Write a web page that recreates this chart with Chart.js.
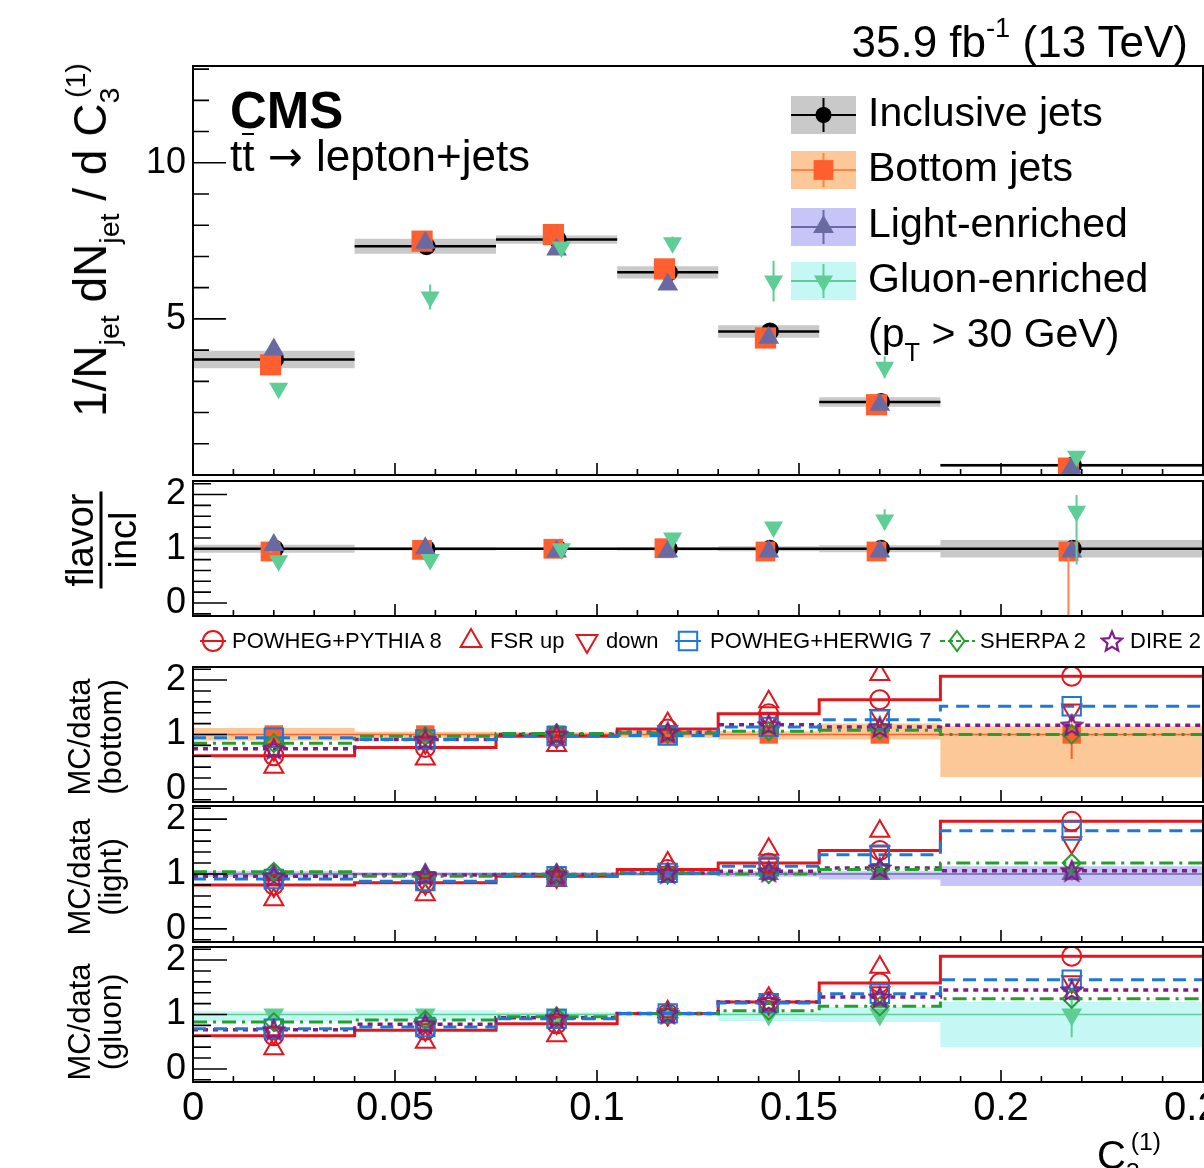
<!DOCTYPE html>
<html>
<head>
<meta charset="utf-8">
<title>C3(1) by jet flavour</title>
<script src="https://cdn.jsdelivr.net/npm/chart.js@4.4.1/dist/chart.umd.min.js"></script>
<style>
  html, body { margin: 0; padding: 0; background: #fff; }
  #page { position: relative; width: 1204px; height: 1168px; overflow: hidden;
          font-family: "Liberation Sans", Arial, Helvetica, sans-serif; color: #000; }
  #page canvas { position: absolute; left: 0; }
  .t { position: absolute; white-space: nowrap; line-height: 1; }
  .rc { position: absolute; white-space: nowrap; line-height: 1; text-align: center;
        transform: translate(-50%, -50%) rotate(-90deg); }
  sup, sub { line-height: 0; font-size: 0.62em; }
  sup { vertical-align: 0.75em; }
  sub { vertical-align: -0.45em; }
</style>
</head>
<body>
<div id="page">
  <canvas id="cTop" width="1270" height="480" style="top:0"></canvas>
  <canvas id="cRatio" width="1270" height="144" style="top:478px"></canvas>
  <canvas id="cBottom" width="1270" height="182" style="top:622px"></canvas>
  <canvas id="cLight" width="1270" height="140" style="top:804px"></canvas>
  <canvas id="cGluon" width="1270" height="224" style="top:944px"></canvas>

  <div class="t" style="right:16px;top:20px;font-size:44px">35.9 fb<sup>-1</sup> (13 TeV)</div>
  <div class="t" style="left:230px;top:85px;font-size:51px;font-weight:bold">CMS</div>
  <div class="t" style="left:230px;top:133px;font-size:44px">t<span style="display:inline-block;border-top:2px solid #000;line-height:0.95">t</span><span style="font-family:'DejaVu Sans';font-size:0.95em"> &#8594; </span>lepton+jets</div>

  <div class="t" style="left:868px;top:92px;font-size:41px">Inclusive jets</div>
  <div class="t" style="left:868px;top:147px;font-size:41px">Bottom jets</div>
  <div class="t" style="left:868px;top:203px;font-size:41px">Light-enriched</div>
  <div class="t" style="left:868px;top:258px;font-size:41px">Gluon-enriched</div>
  <div class="t" style="left:868px;top:313px;font-size:41px">(p<sub style="vertical-align:-0.55em">T</sub> &gt; 30 GeV)</div>

  <div class="rc" style="left:90px;top:240px;font-size:46px">1/N<sub>jet</sub> dN<sub>jet</sub> / d C<sub>3</sub><sup style="margin-left:-0.36em">(1)</sup></div>
  <div class="rc" style="left:101px;top:540px;font-size:38px">
    <div style="border-bottom:3px solid #000;padding:0 2px 1px">flavor</div><div style="padding-top:1px">incl</div>
  </div>
  <div class="rc" style="left:95px;top:737px;font-size:31px"><div>MC/data</div><div>(bottom)</div></div>
  <div class="rc" style="left:95px;top:877px;font-size:31px"><div>MC/data</div><div>(light)</div></div>
  <div class="rc" style="left:95px;top:1022px;font-size:31px"><div>MC/data</div><div>(gluon)</div></div>

  <div class="t" style="left:232px;top:630px;font-size:22px">POWHEG+PYTHIA 8</div>
  <div class="t" style="left:490px;top:630px;font-size:22px">FSR up</div>
  <div class="t" style="left:606px;top:630px;font-size:22px">down</div>
  <div class="t" style="left:710px;top:630px;font-size:22px">POWHEG+HERWIG 7</div>
  <div class="t" style="left:980px;top:630px;font-size:22px">SHERPA 2</div>
  <div class="t" style="left:1130px;top:630px;font-size:22px">DIRE 2</div>

  <div class="t" style="left:1097px;top:1135px;font-size:40px">C<sub>3</sub><sup style="margin-left:-0.36em">(1)</sup></div>
</div>

<script>
// ---------------- data ----------------
const binEdges = [0, 0.04, 0.075, 0.105, 0.13, 0.155, 0.185, 0.25];
const xLabelTicks = [0, 0.05, 0.1, 0.15, 0.2, 0.25];
const topYLabels = [5, 10];
const ratioYLabels = [0, 1, 2];

// 1/N dN/dC3 (top panel)
const inclusiveJets = [3.70, 7.33, 7.54, 6.49, 4.60, 2.34, 0.31];
const inclusiveErr  = [0.28, 0.24, 0.13, 0.20, 0.20, 0.15, 0.05];
const bottomJets    = [3.53, 7.49, 7.70, 6.60, 4.39, 2.25, 0.22];
const lightJets     = [4.02, 7.44, 7.22, 6.10, 4.40, 2.25, 0.23];
const gluonJets     = [2.78, 5.70, 7.30, 7.44, 6.21, 3.45, 0.60];
const gluonJetsErr  = [0.10, 0.40, 0.10, 0.20, 0.65, 0.35, 0.10];

// flavor / inclusive
const unity         = [1, 1, 1, 1, 1, 1, 1];
const ratioInclErr  = [0.075, 0.03, 0.02, 0.03, 0.045, 0.065, 0.16];
const ratioBottom   = [0.95, 0.98, 1.00, 1.01, 0.95, 0.95, 0.95];
const ratioBottomLo = [0.92, 0.96, 0.98, 0.98, 0.92, 0.90, -0.60];
const ratioBottomHi = [0.98, 1.00, 1.02, 1.04, 0.98, 1.00, 1.10];
const ratioLight    = [1.07, 1.01, 0.95, 0.95, 0.95, 0.95, 0.95];
const ratioGluon    = [0.78, 0.80, 1.00, 1.20, 1.40, 1.53, 1.69];
const ratioGluonLo  = [0.74, 0.75, 0.97, 1.15, 1.33, 1.35, 0.71];
const ratioGluonHi  = [0.82, 0.85, 1.03, 1.25, 1.47, 1.73, 1.99];

// MC / data, bottom jets
const bottomPowhegPythia = [0.61, 0.76, 0.97, 1.10, 1.38, 1.64, 2.07];
const bottomFsrUp        = [0.40, 0.55, 0.80, 1.20, 1.60, 2.10, null];
const bottomFsrDown      = [0.72, 0.85, 0.95, 1.05, 1.30, 1.35, 1.45];
const bottomPowhegHerwig = [0.94, 0.91, 0.97, 0.98, 1.14, 1.27, 1.52];
const bottomSherpa       = [0.84, 0.97, 1.02, 1.03, 1.06, 1.08, 1.00];
const bottomDire         = [0.74, 0.91, 1.00, 1.04, 1.18, 1.14, 1.17];
const bottomBandLo       = [0.89, 0.94, 0.96, 0.94, 0.91, 0.91, 0.22];
const bottomBandHi       = [1.12, 1.05, 1.04, 1.06, 1.06, 1.20, 1.15];
const bottomDataLo       = [0.97, 0.98, 0.98, 0.98, 0.97, 0.97, 0.55];
const bottomDataHi       = [1.03, 1.02, 1.02, 1.02, 1.03, 1.03, 1.20];

// MC / data, light-enriched
const lightPowhegPythia = [0.80, 0.84, 0.96, 1.08, 1.20, 1.43, 1.96];
const lightFsrUp        = [0.53, 0.62, 0.88, 1.20, 1.45, 1.78, null];
const lightFsrDown      = [0.78, 0.82, 0.95, 1.03, 1.18, 1.40, 1.57];
const lightPowhegHerwig = [0.91, 0.87, 0.96, 1.02, 1.14, 1.35, 1.79];
const lightSherpa       = [1.04, 0.96, 0.99, 1.02, 1.00, 1.08, 1.20];
const lightDire         = [0.96, 0.98, 0.99, 1.02, 1.05, 1.11, 1.06];
const lightBandLo       = [0.95, 0.97, 0.97, 0.97, 0.95, 0.90, 0.78];
const lightBandHi       = [1.05, 1.03, 1.03, 1.03, 1.05, 1.05, 1.14];
const lightDataLo       = [0.98, 0.98, 0.98, 0.98, 0.97, 0.95, 0.88];
const lightDataHi       = [1.02, 1.02, 1.02, 1.02, 1.03, 1.05, 1.12];

// MC / data, gluon-enriched
const gluonPowhegPythia = [0.61, 0.71, 0.83, 1.02, 1.23, 1.58, 2.07];
const gluonFsrUp        = [0.37, 0.49, 0.61, 1.05, 1.30, 1.87, null];
const gluonFsrDown      = [0.65, 0.72, 0.85, 1.00, 1.20, 1.40, 1.60];
const gluonPowhegHerwig = [0.74, 0.77, 0.92, 1.02, 1.21, 1.38, 1.64];
const gluonSherpa       = [0.86, 0.90, 0.96, 1.02, 1.07, 1.15, 1.29];
const gluonDire         = [0.72, 0.82, 0.94, 1.02, 1.23, 1.32, 1.45];
const gluonBandLo       = [0.87, 0.90, 0.95, 0.97, 0.88, 0.86, 0.40];
const gluonBandHi       = [1.06, 1.08, 1.04, 1.03, 1.05, 1.14, 1.23];
const gluonDataLo       = [0.96, 0.96, 0.98, 0.98, 0.93, 0.90, 0.58];
const gluonDataHi       = [1.04, 1.04, 1.02, 1.02, 1.07, 1.10, 1.26];

// ---------------- styles ----------------
const RED = '#e2161c', BLUE = '#1e78d7', GREEN = '#22a12a', PURPLE = '#7b1e88';
const GRAY_BAND = '#c9c9c9';
const ORANGE = '#ff5f2e', ORANGE_LINE = '#ff8050', ORANGE_BAND = '#fdc897';
const SLATE = '#6a6aa2', LAVENDER = '#c7c5f8';
const MINT = '#5ecd96', CYAN_BAND = '#c5f8f5';
const CLEAR = 'rgba(0,0,0,0)';

Chart.defaults.font.family = '"Liberation Sans", Arial, Helvetica, sans-serif';
Chart.defaults.color = '#000';

// open star marker for DIRE 2
function makeStar(color, size) {
  const c = document.createElement('canvas');
  c.width = c.height = size;
  const g = c.getContext('2d');
  const r = size / 2 - 1.5, ri = r * 0.45, cx = size / 2, cy = size / 2 + 1;
  g.beginPath();
  for (let k = 0; k < 10; k++) {
    const a = -Math.PI / 2 + k * Math.PI / 5;
    const rr = k % 2 ? ri : r;
    g.lineTo(cx + rr * Math.cos(a), cy + rr * Math.sin(a));
  }
  g.closePath();
  g.strokeStyle = color;
  g.lineWidth = 2.2;
  g.stroke();
  return c;
}
const starMark = makeStar(PURPLE, 24);

// ---------------- helpers to turn bins into points ----------------
const binCenters = binEdges.slice(0, -1).map((lo, i) => (lo + binEdges[i + 1]) / 2);

const pointsAt = (vals, dx = 0) => vals.map((v, i) => ({ x: binCenters[i] + dx, y: v }));

// histogram outline (used with stepped: true)
function stepLine(vals) {
  const d = vals.map((v, i) => ({ x: binEdges[i], y: v }));
  d.push({ x: binEdges[binEdges.length - 1], y: vals[vals.length - 1] });
  return d;
}
// separate horizontal segment per bin
function binSegments(vals) {
  const d = [];
  vals.forEach((v, i) => d.push({ x: binEdges[i], y: v }, { x: binEdges[i + 1], y: v }, { x: binEdges[i + 1], y: null }));
  return d;
}
// flat top / bottom edge of a band
function bandEdge(vals) {
  const d = [];
  vals.forEach((v, i) => d.push({ x: binEdges[i], y: v }, { x: binEdges[i + 1], y: v }));
  return d;
}
function errorBars(lo, hi, dx = 0) {
  const d = [];
  lo.forEach((l, i) => {
    const x = binCenters[i] + dx;
    d.push({ x, y: l }, { x, y: hi[i] }, { x, y: null });
  });
  return d;
}

const band = (hi, lo, color) => [
  { data: bandEdge(hi), fill: '+1', backgroundColor: color, borderWidth: 0, pointRadius: 0, order: 10 },
  { data: bandEdge(lo), fill: false, borderWidth: 0, pointRadius: 0, order: 10 }
];
const markers = (data, style, r, fill, stroke, extra) => Object.assign({
  data, showLine: false, pointStyle: style, pointRadius: r,
  pointBackgroundColor: fill, pointBorderColor: stroke || fill, pointBorderWidth: stroke ? 2 : 0
}, extra || {});
const histLine = (vals, color, dash, width, order) => ({
  data: stepLine(vals), stepped: true, borderColor: color, borderWidth: width,
  borderDash: dash, pointRadius: 0, order
});
const bars = (lo, hi, color, dx, order) => ({
  data: errorBars(lo, hi, dx), borderColor: color, borderWidth: 2, pointRadius: 0, order
});

// ---------------- plugins ----------------
const xMinorTicks = [];
for (let k = 0; k <= 25; k++) xMinorTicks.push(k / 100);
const xMajorTicks = xLabelTicks;

// ROOT-like frame with ticks pointing inwards
const rootAxes = {
  id: 'rootAxes',
  afterDraw(chart, args, o) {
    const { ctx, chartArea: a, scales } = chart;
    ctx.save();
    ctx.strokeStyle = '#000';
    ctx.lineWidth = 1.6;
    ctx.beginPath();
    o.yMinor.forEach(v => { const y = scales.y.getPixelForValue(v); ctx.moveTo(a.left, y); ctx.lineTo(a.left + o.yMinorLen, y); });
    o.yMajor.forEach(v => { const y = scales.y.getPixelForValue(v); ctx.moveTo(a.left, y); ctx.lineTo(a.left + o.yMajorLen, y); });
    xMinorTicks.forEach(v => { const x = scales.x.getPixelForValue(v); ctx.moveTo(x, a.bottom); ctx.lineTo(x, a.bottom - 6); });
    xMajorTicks.forEach(v => { const x = scales.x.getPixelForValue(v); ctx.moveTo(x, a.bottom); ctx.lineTo(x, a.bottom - 12); });
    ctx.stroke();
    ctx.lineWidth = 2;
    ctx.strokeRect(a.left, a.top, a.right - a.left, a.bottom - a.top);
    ctx.restore();
  }
};

function drawMark(ctx, style, x, y, r, fill, stroke) {
  if (style === 'star') { ctx.drawImage(starMark, x - 12, y - 12); return; }
  ctx.beginPath();
  if (style === 'circle') ctx.arc(x, y, r, 0, Math.PI * 2);
  else if (style === 'rect') { const s = r * Math.SQRT1_2; ctx.rect(x - s, y - s, 2 * s, 2 * s); }
  else if (style === 'diamond') { ctx.moveTo(x, y - r); ctx.lineTo(x + r * 0.75, y); ctx.lineTo(x, y + r); ctx.lineTo(x - r * 0.75, y); ctx.closePath(); }
  else if (style === 'tri') { ctx.moveTo(x, y - r); ctx.lineTo(x + r * 0.866, y + r / 2); ctx.lineTo(x - r * 0.866, y + r / 2); ctx.closePath(); }
  else if (style === 'triDown') { ctx.moveTo(x, y + r); ctx.lineTo(x + r * 0.866, y - r / 2); ctx.lineTo(x - r * 0.866, y - r / 2); ctx.closePath(); }
  if (fill) { ctx.fillStyle = fill; ctx.fill(); }
  if (stroke) { ctx.strokeStyle = stroke; ctx.lineWidth = 2; ctx.stroke(); }
}

const topLegendRows = [
  { y: 115, band: GRAY_BAND, line: '#000', style: 'circle', color: '#000', r: 8 },
  { y: 170, band: ORANGE_BAND, line: ORANGE_LINE, style: 'rect', color: ORANGE, r: 14 },
  { y: 227, band: LAVENDER, line: SLATE, style: 'tri', color: SLATE, r: 12 },
  { y: 281, band: CYAN_BAND, line: MINT, style: 'triDown', color: MINT, r: 11 }
];
const topLegend = {
  id: 'topLegend',
  afterDraw(chart) {
    const ctx = chart.ctx;
    ctx.save();
    topLegendRows.forEach(row => {
      ctx.fillStyle = row.band;
      ctx.fillRect(791, row.y - 19, 65, 38);
      ctx.strokeStyle = row.line;
      ctx.lineWidth = 2;
      ctx.beginPath();
      ctx.moveTo(791, row.y); ctx.lineTo(856, row.y);
      ctx.moveTo(823.5, row.y - 17); ctx.lineTo(823.5, row.y + 17);
      ctx.stroke();
      drawMark(ctx, row.style, 823.5, row.y, row.r, row.color, null);
    });
    ctx.restore();
  }
};

const mcLegendItems = [
  { x: 213, style: 'circle', color: RED, r: 10, line: [200, 226], dash: [] },
  { x: 471, style: 'tri', color: RED, r: 12 },
  { x: 587, style: 'triDown', color: RED, r: 12 },
  { x: 688, style: 'rect', color: BLUE, r: 13, line: [675, 701], dash: [] },
  { x: 957, style: 'diamond', color: GREEN, r: 10, line: [940, 975], dash: [5, 3] },
  { x: 1112, style: 'star', color: PURPLE, r: 11 }
];
const mcLegend = {
  id: 'mcLegend',
  afterDraw(chart) {
    const ctx = chart.ctx, y = 641 - 622;
    ctx.save();
    mcLegendItems.forEach(it => {
      if (it.line) {
        ctx.strokeStyle = it.color; ctx.lineWidth = 2; ctx.setLineDash(it.dash);
        ctx.beginPath(); ctx.moveTo(it.line[0], y); ctx.lineTo(it.line[1], y); ctx.stroke();
        ctx.setLineDash([]);
      }
      drawMark(ctx, it.style, it.x, y, it.r, null, it.color);
    });
    ctx.restore();
  }
};

// ---------------- chart factory ----------------
const yMinorTop = [];
for (let k = 0; k <= 13; k++) yMinorTop.push(k);
const yMinorRatio = [];
for (let k = -1; k <= 11; k++) yMinorRatio.push(k / 5);

function makePanel(id, p, datasets, extraPlugins) {
  return new Chart(document.getElementById(id), {
    type: 'line',
    data: { datasets },
    options: {
      responsive: false,
      animation: false,
      devicePixelRatio: 1,
      events: [],
      layout: { autoPadding: false, padding: { left: 0, right: 1270 - 1203, top: p.padTop, bottom: p.padBottom } },
      plugins: {
        legend: { display: false },
        tooltip: { enabled: false },
        colors: { enabled: false },
        rootAxes: p.axes
      },
      scales: {
        x: {
          type: 'linear', min: 0, max: 0.25, display: !!p.xHeight,
          grid: { display: false, drawTicks: false }, border: { display: false },
          ticks: { font: { size: 40 }, padding: 3, maxRotation: 0, autoSkip: false, callback: v => String(v) },
          afterBuildTicks: s => { s.ticks = xLabelTicks.map(v => ({ value: v })); },
          afterFit: s => { if (p.xHeight) s.height = p.xHeight; s.paddingLeft = 0; s.paddingRight = 0; }
        },
        y: {
          type: 'linear', min: p.ymin, max: p.ymax,
          grid: { display: false, drawTicks: false }, border: { display: false },
          ticks: { font: { size: 36 }, padding: 7, autoSkip: false, callback: v => String(v) },
          afterBuildTicks: s => { s.ticks = p.yLabels.map(v => ({ value: v })); },
          afterFit: s => { s.width = 193; s.paddingTop = 0; s.paddingBottom = 0; }
        }
      }
    },
    plugins: [rootAxes].concat(extraPlugins || [])
  });
}

const topAxes = { yMajor: [0, 5, 10], yMinor: yMinorTop, yMajorLen: 33, yMinorLen: 16 };
const ratioAxes = { yMajor: [0, 1, 2], yMinor: yMinorRatio, yMajorLen: 34, yMinorLen: 18 };

// top panel
makePanel('cTop', { padTop: 66, padBottom: 5, ymin: 0, ymax: 13.1, yLabels: topYLabels, axes: topAxes }, [
  ...band(inclusiveJets.map((v, i) => v + inclusiveErr[i]), inclusiveJets.map((v, i) => v - inclusiveErr[i]), GRAY_BAND),
  { data: binSegments(inclusiveJets), borderColor: '#000', borderWidth: 2.5, pointRadius: 0, order: 7 },
  markers(pointsAt(inclusiveJets, 0.0003), 'circle', 9, '#000', null, { order: 6 }),
  markers(pointsAt(bottomJets, -0.0008), 'rect', 15, ORANGE, null, { order: 5 }),
  markers(pointsAt(lightJets), 'triangle', 12, SLATE, null, { order: 4 }),
  bars(gluonJets.map((v, i) => v - gluonJetsErr[i]), gluonJets.map((v, i) => v + gluonJetsErr[i]), MINT, 0.0012, 3),
  markers(pointsAt(gluonJets, 0.0012), 'triangle', 11, MINT, null, { pointRotation: 180, order: 2 })
], [topLegend]);

// flavor / inclusive
makePanel('cRatio', { padTop: 3, padBottom: 6, ymin: -0.24, ymax: 2.25, yLabels: ratioYLabels, axes: ratioAxes }, [
  ...band(unity.map((v, i) => v + ratioInclErr[i]), unity.map((v, i) => v - ratioInclErr[i]), GRAY_BAND),
  histLine(unity, '#000', [], 2.5, 7),
  markers(pointsAt(unity, 0.0003), 'circle', 9, '#000', null, { order: 6 }),
  bars(ratioBottomLo, ratioBottomHi, ORANGE_LINE, -0.0008, 5),
  markers(pointsAt(ratioBottom, -0.0008), 'rect', 14, ORANGE, null, { order: 5 }),
  markers(pointsAt(ratioLight), 'triangle', 12, SLATE, null, { order: 4 }),
  bars(ratioGluonLo, ratioGluonHi, MINT, 0.0012, 3),
  markers(pointsAt(ratioGluon, 0.0012), 'triangle', 11, MINT, null, { pointRotation: 180, order: 2 })
]);

function mcDatasets(m) {
  return [
    ...band(m.bandHi, m.bandLo, m.bandColor),
    histLine(unity, m.dataColor, [], 1.5, 9),
    bars(m.dataLo, m.dataHi, m.dataColor, 0, 8),
    markers(pointsAt(unity), m.dataStyle, m.dataR, m.dataColor, null, { pointRotation: m.dataRot || 0, order: 8 }),
    histLine(m.pp8, RED, [], 3, 7),
    histLine(m.hw7, BLUE, [13, 8], 3, 6),
    histLine(m.sherpa, GREEN, [14, 6, 3, 6], 3, 6),
    histLine(m.dire, PURPLE, [5, 5], 3.5, 6),
    markers(pointsAt(m.pp8), 'circle', 9.5, CLEAR, RED, { order: 4 }),
    markers(pointsAt(m.fsrUp), 'triangle', 11, CLEAR, RED, { order: 4 }),
    markers(pointsAt(m.fsrDown), 'triangle', 11, CLEAR, RED, { pointRotation: 180, order: 4 }),
    markers(pointsAt(m.hw7), 'rect', 13, CLEAR, BLUE, { order: 3 }),
    markers(pointsAt(m.sherpa), 'rectRot', 9, CLEAR, GREEN, { order: 2 }),
    markers(pointsAt(m.dire), starMark, 12, CLEAR, PURPLE, { order: 1 })
  ];
}

makePanel('cBottom', { padTop: 45, padBottom: 2, ymin: -0.24, ymax: 2.24, yLabels: ratioYLabels, axes: ratioAxes },
  mcDatasets({
    pp8: bottomPowhegPythia, fsrUp: bottomFsrUp, fsrDown: bottomFsrDown, hw7: bottomPowhegHerwig,
    sherpa: bottomSherpa, dire: bottomDire, bandLo: bottomBandLo, bandHi: bottomBandHi,
    dataLo: bottomDataLo, dataHi: bottomDataHi, bandColor: ORANGE_BAND, dataColor: ORANGE,
    dataStyle: 'rect', dataR: 13
  }), [mcLegend]);

makePanel('cLight', { padTop: 2, padBottom: 2, ymin: -0.24, ymax: 2.24, yLabels: ratioYLabels, axes: ratioAxes },
  mcDatasets({
    pp8: lightPowhegPythia, fsrUp: lightFsrUp, fsrDown: lightFsrDown, hw7: lightPowhegHerwig,
    sherpa: lightSherpa, dire: lightDire, bandLo: lightBandLo, bandHi: lightBandHi,
    dataLo: lightDataLo, dataHi: lightDataHi, bandColor: LAVENDER, dataColor: SLATE,
    dataStyle: 'triangle', dataR: 12
  }));

makePanel('cGluon', { padTop: 3, padBottom: 0, xHeight: 86, ymin: -0.24, ymax: 2.24, yLabels: ratioYLabels, axes: ratioAxes },
  mcDatasets({
    pp8: gluonPowhegPythia, fsrUp: gluonFsrUp, fsrDown: gluonFsrDown, hw7: gluonPowhegHerwig,
    sherpa: gluonSherpa, dire: gluonDire, bandLo: gluonBandLo, bandHi: gluonBandHi,
    dataLo: gluonDataLo, dataHi: gluonDataHi, bandColor: CYAN_BAND, dataColor: MINT,
    dataStyle: 'triangle', dataR: 12, dataRot: 180
  }));
</script>
</body>
</html>
